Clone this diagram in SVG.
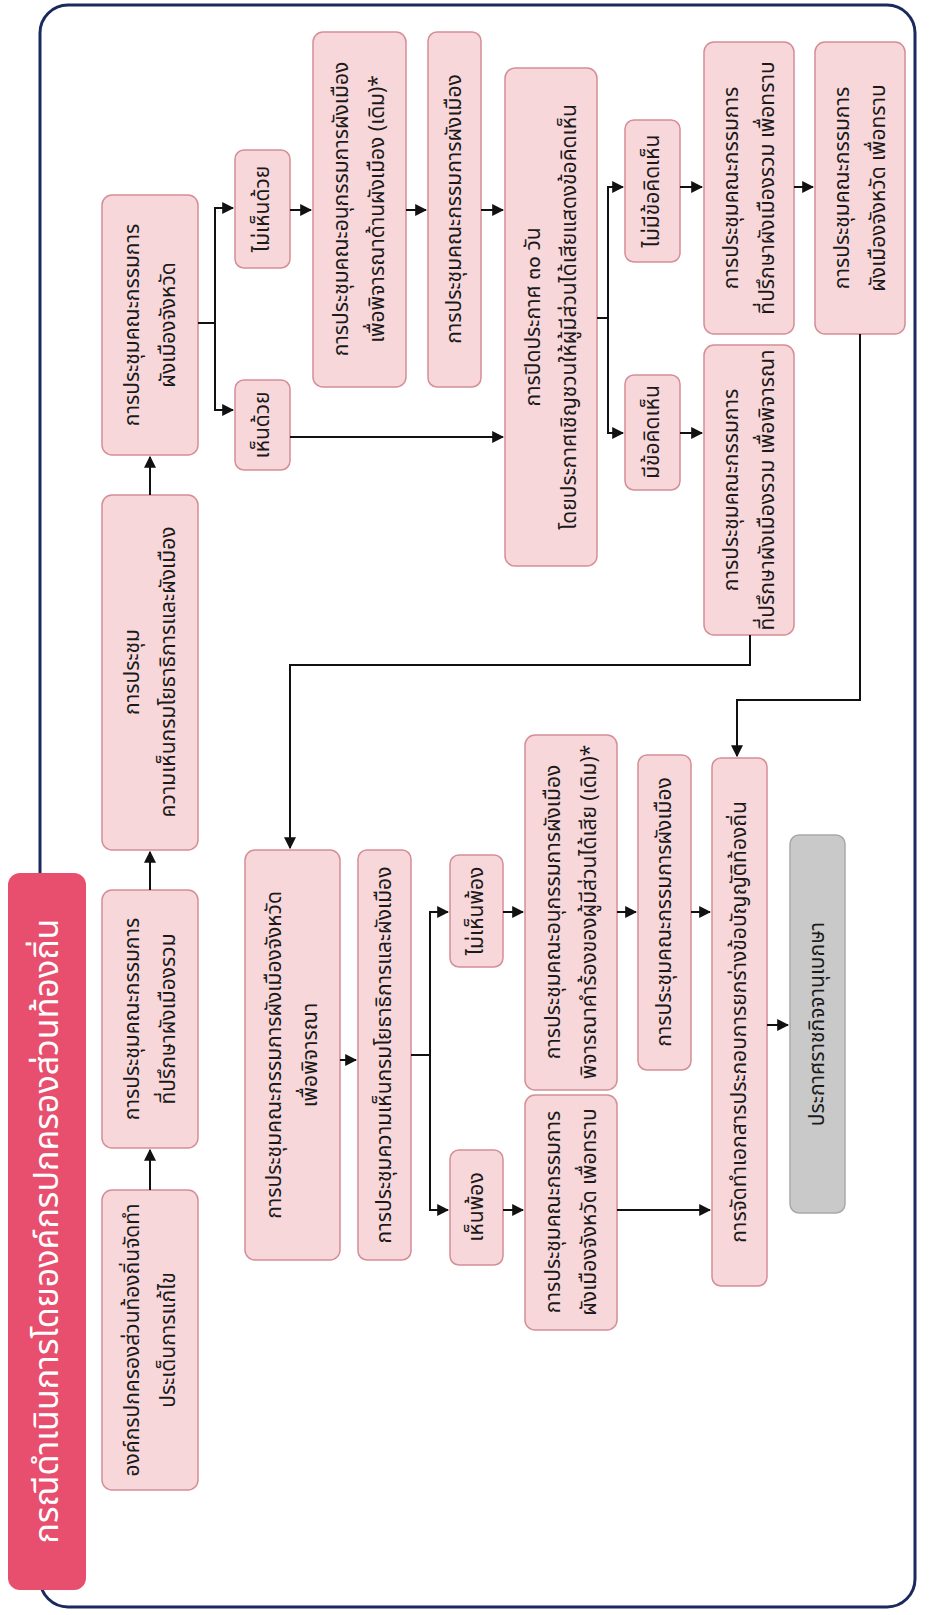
<svg xmlns="http://www.w3.org/2000/svg" width="942" height="1615" viewBox="0 0 942 1615">
<defs>
<style>
.bx{fill:#f8d7da;stroke:#d48e97;stroke-width:1.5}
.gy{fill:#c9c9c9;stroke:#a9a9a9;stroke-width:1.5}
.t{font-family:"Noto Sans Thai","Noto Sans","DejaVu Sans",sans-serif;font-size:21px;fill:#1a1a1a;text-anchor:middle;dominant-baseline:central}
.tt{font-family:"Noto Sans Thai","Noto Sans","DejaVu Sans",sans-serif;font-size:34px;fill:#ffffff;text-anchor:middle;dominant-baseline:central}
.c{fill:none;stroke:#111;stroke-width:2}
</style>
<marker id="ar" viewBox="0 0 10 10" refX="9" refY="5" markerWidth="6" markerHeight="6" orient="auto">
<path d="M0,0 L10,5 L0,10 z" fill="#111"/>
</marker>
</defs>
<rect x="0" y="0" width="942" height="1615" fill="#ffffff"/>
<rect id="frame" x="40" y="5" width="875" height="1602" rx="28" fill="none" stroke="#1b2a5c" stroke-width="3"/>

<g id="title"><rect x="8" y="873" width="78" height="717" rx="12" fill="#e84e6d"/>
<text class="tt" transform="translate(47,1231) rotate(-90)">กรณีดำเนินการโดยองค์กรปกครองส่วนท้องถิ่น</text></g>

<g id="n1"><rect class="bx" x="102" y="1190" width="96" height="300" rx="10"/>
<text class="t" transform="translate(150,1340) rotate(-90)"><tspan x="0" y="-18">องค์กรปกครองส่วนท้องถิ่นจัดทำ</tspan><tspan x="0" y="18">ประเด็นการแก้ไข</tspan></text></g>
<g id="n2"><rect class="bx" x="102" y="890" width="96" height="258" rx="10"/>
<text class="t" transform="translate(150,1019) rotate(-90)"><tspan x="0" y="-18">การประชุมคณะกรรมการ</tspan><tspan x="0" y="18">ที่ปรึกษาผังเมืองรวม</tspan></text></g>
<g id="n3"><rect class="bx" x="102" y="495" width="96" height="355" rx="10"/>
<text class="t" transform="translate(150,672) rotate(-90)"><tspan x="0" y="-18">การประชุม</tspan><tspan x="0" y="18">ความเห็นกรมโยธาธิการและผังเมือง</tspan></text></g>
<g id="n4"><rect class="bx" x="102" y="195" width="96" height="260" rx="10"/>
<text class="t" transform="translate(150,325) rotate(-90)"><tspan x="0" y="-18">การประชุมคณะกรรมการ</tspan><tspan x="0" y="18">ผังเมืองจังหวัด</tspan></text></g>

<g id="n5"><rect class="bx" x="235" y="150" width="55" height="118" rx="9"/>
<text class="t" transform="translate(262,209) rotate(-90)">ไม่เห็นด้วย</text></g>
<g id="n6"><rect class="bx" x="235" y="380" width="55" height="90" rx="9"/>
<text class="t" transform="translate(262,425) rotate(-90)">เห็นด้วย</text></g>

<g id="n7"><rect class="bx" x="313" y="32" width="93" height="355" rx="10"/>
<text class="t" transform="translate(359,209) rotate(-90)"><tspan x="0" y="-18">การประชุมคณะอนุกรรมการผังเมือง</tspan><tspan x="0" y="18">เพื่อพิจารณาด้านผังเมือง (เดิม)*</tspan></text></g>
<g id="n8"><rect class="bx" x="428" y="32" width="53" height="355" rx="9"/>
<text class="t" transform="translate(454,209) rotate(-90)">การประชุมคณะกรรมการผังเมือง</text></g>
<g id="n9"><rect class="bx" x="505" y="68" width="92" height="498" rx="10"/>
<text class="t" transform="translate(551,317) rotate(-90)"><tspan x="0" y="-18">การปิดประกาศ ๓๐ วัน</tspan><tspan x="0" y="18">โดยประกาศเชิญชวนให้ผู้มีส่วนได้เสียแสดงข้อคิดเห็น</tspan></text></g>

<g id="n10"><rect class="bx" x="625" y="120" width="55" height="142" rx="9"/>
<text class="t" transform="translate(652,191) rotate(-90)">ไม่มีข้อคิดเห็น</text></g>
<g id="n11"><rect class="bx" x="625" y="375" width="55" height="115" rx="9"/>
<text class="t" transform="translate(652,432) rotate(-90)">มีข้อคิดเห็น</text></g>

<g id="n12"><rect class="bx" x="704" y="42" width="90" height="292" rx="10"/>
<text class="t" transform="translate(749,188) rotate(-90)"><tspan x="0" y="-18">การประชุมคณะกรรมการ</tspan><tspan x="0" y="18">ที่ปรึกษาผังเมืองรวม เพื่อทราบ</tspan></text></g>
<g id="n13"><rect class="bx" x="704" y="345" width="90" height="290" rx="10"/>
<text class="t" transform="translate(749,490) rotate(-90)"><tspan x="0" y="-18">การประชุมคณะกรรมการ</tspan><tspan x="0" y="18">ที่ปรึกษาผังเมืองรวม เพื่อพิจารณา</tspan></text></g>
<g id="n14"><rect class="bx" x="815" y="42" width="90" height="292" rx="10"/>
<text class="t" transform="translate(860,188) rotate(-90)"><tspan x="0" y="-18">การประชุมคณะกรรมการ</tspan><tspan x="0" y="18">ผังเมืองจังหวัด เพื่อทราบ</tspan></text></g>

<g id="n15"><rect class="bx" x="245" y="850" width="95" height="410" rx="10"/>
<text class="t" transform="translate(292,1055) rotate(-90)"><tspan x="0" y="-18">การประชุมคณะกรรมการผังเมืองจังหวัด</tspan><tspan x="0" y="18">เพื่อพิจารณา</tspan></text></g>
<g id="n16"><rect class="bx" x="358" y="850" width="53" height="410" rx="9"/>
<text class="t" transform="translate(384,1055) rotate(-90)">การประชุมความเห็นกรมโยธาธิการและผังเมือง</text></g>
<g id="n17"><rect class="bx" x="450" y="855" width="53" height="112" rx="9"/>
<text class="t" transform="translate(476,911) rotate(-90)">ไม่เห็นพ้อง</text></g>
<g id="n18"><rect class="bx" x="450" y="1150" width="53" height="115" rx="9"/>
<text class="t" transform="translate(476,1207) rotate(-90)">เห็นพ้อง</text></g>
<g id="n19"><rect class="bx" x="525" y="735" width="92" height="355" rx="10"/>
<text class="t" transform="translate(571,912) rotate(-90)"><tspan x="0" y="-18">การประชุมคณะอนุกรรมการผังเมือง</tspan><tspan x="0" y="18">พิจารณาคำร้องของผู้มีส่วนได้เสีย (เดิม)*</tspan></text></g>
<g id="n20"><rect class="bx" x="638" y="755" width="53" height="315" rx="9"/>
<text class="t" transform="translate(664,912) rotate(-90)">การประชุมคณะกรรมการผังเมือง</text></g>
<g id="n21"><rect class="bx" x="525" y="1095" width="92" height="235" rx="10"/>
<text class="t" transform="translate(571,1212) rotate(-90)"><tspan x="0" y="-18">การประชุมคณะกรรมการ</tspan><tspan x="0" y="18">ผังเมืองจังหวัด เพื่อทราบ</tspan></text></g>
<g id="n22"><rect class="bx" x="712" y="758" width="55" height="528" rx="9"/>
<text class="t" transform="translate(739,1022) rotate(-90)">การจัดทำเอกสารประกอบการยกร่างข้อบัญญัติท้องถิ่น</text></g>
<g id="n23"><rect class="gy" x="790" y="835" width="55" height="378" rx="9"/>
<text class="t" transform="translate(817,1024) rotate(-90)">ประกาศราชกิจจานุเบกษา</text></g>

<g id="connectors">
<path class="c" marker-end="url(#ar)" d="M150,1190 V1150"/>
<path class="c" marker-end="url(#ar)" d="M150,890 V852"/>
<path class="c" marker-end="url(#ar)" d="M150,495 V457"/>
<path class="c" d="M198,323 H215 M215,207 V411"/>
<path class="c" marker-end="url(#ar)" d="M215,208 H233"/>
<path class="c" marker-end="url(#ar)" d="M215,410 H233"/>
<path class="c" marker-end="url(#ar)" d="M290,210 H311"/>
<path class="c" marker-end="url(#ar)" d="M406,210 H426"/>
<path class="c" marker-end="url(#ar)" d="M481,210 H503"/>
<path class="c" marker-end="url(#ar)" d="M290,437 H503"/>
<path class="c" d="M597,318 H608 M608,186 V434"/>
<path class="c" marker-end="url(#ar)" d="M608,187 H623"/>
<path class="c" marker-end="url(#ar)" d="M608,433 H623"/>
<path class="c" marker-end="url(#ar)" d="M680,187 H702"/>
<path class="c" marker-end="url(#ar)" d="M680,433 H702"/>
<path class="c" marker-end="url(#ar)" d="M794,187 H813"/>
<path class="c" marker-end="url(#ar)" d="M860,334 V700 H737 V756"/>
<path class="c" marker-end="url(#ar)" d="M750,635 V665 H290 V848"/>
<path class="c" marker-end="url(#ar)" d="M340,1060 H356"/>
<path class="c" d="M411,1055 H430 M430,911 V1211"/>
<path class="c" marker-end="url(#ar)" d="M430,912 H448"/>
<path class="c" marker-end="url(#ar)" d="M430,1210 H448"/>
<path class="c" marker-end="url(#ar)" d="M503,912 H523"/>
<path class="c" marker-end="url(#ar)" d="M617,912 H636"/>
<path class="c" marker-end="url(#ar)" d="M691,912 H710"/>
<path class="c" marker-end="url(#ar)" d="M503,1210 H523"/>
<path class="c" marker-end="url(#ar)" d="M617,1210 H710"/>
<path class="c" marker-end="url(#ar)" d="M767,1025 H788"/>
</g>
</svg>
